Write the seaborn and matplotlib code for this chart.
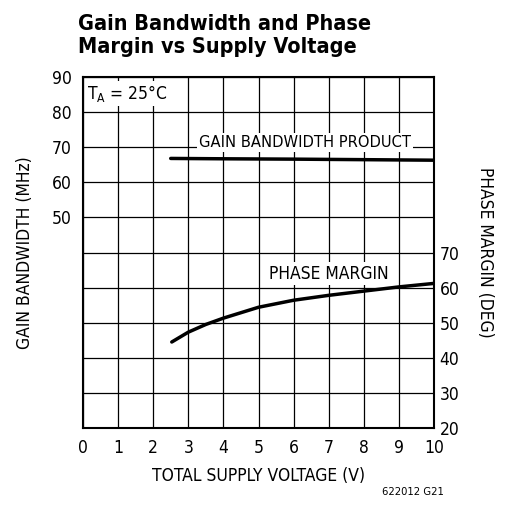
import matplotlib
matplotlib.use("Agg")
import matplotlib.pyplot as plt
import seaborn as sns
import pandas as pd

# Data
gbw_voltage = [2.5, 4, 6, 8, 10]
gain_bw = [66.8, 66.7, 66.6, 66.45, 66.3]

pm_voltage = [2.53, 3, 3.5, 4, 5, 6, 7, 8, 9, 10]
phase_margin = [44.5, 47.3, 49.5, 51.3, 54.4, 56.4, 57.8, 59.0, 60.2, 61.2]

x_ticks = list(range(0, 11))
left_ticks = [50, 60, 70, 80, 90]
right_ticks = [20, 30, 40, 50, 60, 70]

sns.set_style("white")
plt.rcParams["font.family"] = ["DejaVu Sans"]
plt.rcParams["font.stretch"] = "condensed"
plt.rcParams["text.color"] = "black"
plt.rcParams["axes.labelcolor"] = "black"
plt.rcParams["xtick.color"] = "black"
plt.rcParams["ytick.color"] = "black"

df_gain = pd.DataFrame({"V": gbw_voltage, "GBW": gain_bw})
df_phase = pd.DataFrame({"V": pm_voltage, "PM": phase_margin})

fig = plt.figure(figsize=(5.15, 5.05), dpi=100)
ax = fig.add_axes([0.161, 0.1525, 0.682, 0.695])
ax2 = ax.twinx()

# Gain bandwidth on left axis
ax.set_xlim(0, 10)
ax.set_ylim(-10, 90)
ax.set_xticks(x_ticks)
ax.set_yticks(range(-10, 91, 10))
ax.set_yticklabels([str(t) if t in left_ticks else "" for t in range(-10, 91, 10)])
ax.grid(True, color="black", linewidth=0.9)
ax.tick_params(length=0, labelsize=12.5, pad=8)
for s in ax.spines.values():
    s.set_color("black")
    s.set_linewidth(1.5)

sns.lineplot(data=df_gain, x="V", y="GBW", ax=ax, color="black", linewidth=2.5, zorder=5)
ax.set_xlabel("TOTAL SUPPLY VOLTAGE (V)", fontsize=12.5, labelpad=7)
ax.set_ylabel("GAIN BANDWIDTH (MHz)", fontsize=12.5, labelpad=13)

# Phase margin on right axis
ax2.set_ylim(20, 120)
ax2.set_yticks(right_ticks)
ax2.tick_params(length=0, labelsize=12.5, pad=4)
sns.lineplot(data=df_phase, x="V", y="PM", ax=ax2, color="black", linewidth=2.5, zorder=5)
ax2.set_ylabel("PHASE MARGIN (DEG)", fontsize=12.5, rotation=270, labelpad=25)
for s in ax2.spines.values():
    s.set_visible(False)

box = dict(facecolor="white", edgecolor="none", pad=1.5)
ax.text(0.12, 85.2, "T$_\\mathregular{A}$ = 25°C", fontsize=12.5, va="center", ha="left", bbox=box, zorder=6)
ax.text(3.3, 71.3, "GAIN BANDWIDTH PRODUCT", fontsize=11.8, va="center", ha="left", bbox=box, zorder=6)
ax2.text(5.3, 64.0, "PHASE MARGIN", fontsize=12.5, va="center", ha="left", bbox=box, zorder=6)

fig.text(0.152, 0.93, "Gain Bandwidth and Phase\nMargin vs Supply Voltage",
         fontsize=15.5, fontweight="bold", ha="left", va="center", linespacing=1.2)
fig.text(0.742, 0.025, "622012 G21", fontsize=8, ha="left", va="center")

fig.savefig("out.png", dpi=100)
